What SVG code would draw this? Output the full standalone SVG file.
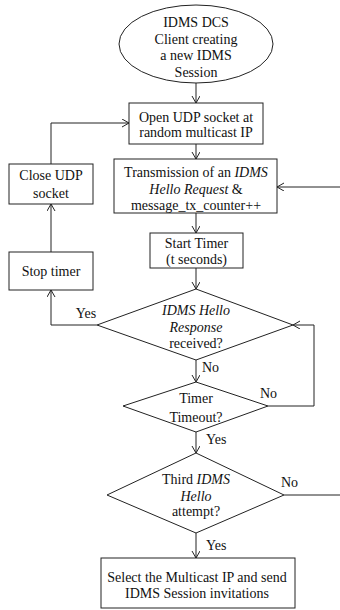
<svg xmlns="http://www.w3.org/2000/svg" width="340" height="610" viewBox="0 0 340 610">
  <style>
    .shape { fill: #ffffff; stroke: #222222; stroke-width: 1; }
    .line { fill: none; stroke: #222222; stroke-width: 1; }
    text { font-family: "Liberation Serif", "Times New Roman", serif; font-size: 14px; fill: #111111; }
    .c { text-anchor: middle; }
    .i { font-style: italic; }
  </style>
  <defs>
    <marker id="arrow" markerUnits="userSpaceOnUse" markerWidth="10" markerHeight="10" refX="7" refY="4" orient="auto">
      <path d="M0,0 L7,4 L0,8" fill="none" stroke="#222222" stroke-width="1"/>
    </marker>
  </defs>
  <rect width="340" height="610" fill="#ffffff"/>

  <g id="connectors">
    <path class="line" d="M196,83 V103" marker-end="url(#arrow)"/>
    <path class="line" d="M196,144 V159" marker-end="url(#arrow)"/>
    <path class="line" d="M196,213 V233" marker-end="url(#arrow)"/>
    <path class="line" d="M196,268 V289" marker-end="url(#arrow)"/>
    <path class="line" d="M196,360 V382" marker-end="url(#arrow)"/>
    <path class="line" d="M196,432 V453" marker-end="url(#arrow)"/>
    <path class="line" d="M196,533 V558" marker-end="url(#arrow)"/>
    <path class="line" d="M97,325 H51 V290" marker-end="url(#arrow)"/>
    <path class="line" d="M51,252 V204" marker-end="url(#arrow)"/>
    <path class="line" d="M51,164 V123 H129" marker-end="url(#arrow)"/>
    <path class="line" d="M268,406 H314 V325 H293" marker-end="url(#arrow)"/>
    <path class="line" d="M284,495 H340"/>
    <path class="line" d="M340,187 H277" marker-end="url(#arrow)"/>
    <text x="86" y="318" class="c">Yes</text>
    <text x="202" y="372">No</text>
    <text x="260" y="398">No</text>
    <text x="206" y="444">Yes</text>
    <text x="281" y="487">No</text>
    <text x="206" y="550">Yes</text>
  </g>

  <g id="start">
    <ellipse class="shape" cx="196" cy="44" rx="77" ry="39"/>
    <text x="196" y="26.5" class="c">IDMS DCS</text>
    <text x="196" y="43.5" class="c">Client  creating</text>
    <text x="196" y="60" class="c">a new IDMS</text>
    <text x="196" y="77" class="c">Session</text>
  </g>

  <g id="open-socket">
    <rect class="shape" x="129" y="103" width="134" height="41"/>
    <text x="196" y="122" class="c">Open UDP socket at</text>
    <text x="196" y="136.5" class="c">random multicast  IP</text>
  </g>

  <g id="transmit">
    <rect class="shape" x="114" y="159" width="163" height="54"/>
    <text x="196" y="176.5" class="c">Transmission  of an <tspan class="i">IDMS</tspan></text>
    <text x="196" y="193.5" class="c"><tspan class="i">Hello  Request</tspan> &amp;</text>
    <text x="196" y="209.5" class="c">message_tx_counter++</text>
  </g>

  <g id="start-timer">
    <rect class="shape" x="150" y="233" width="93" height="35"/>
    <text x="196.5" y="248" class="c">Start Timer</text>
    <text x="196.5" y="264" class="c">(t seconds)</text>
  </g>

  <g id="close-socket">
    <rect class="shape" x="9" y="164" width="84" height="40"/>
    <text x="51" y="180" class="c">Close UDP</text>
    <text x="51" y="198" class="c">socket</text>
  </g>

  <g id="stop-timer">
    <rect class="shape" x="9" y="252" width="84" height="38"/>
    <text x="51" y="276" class="c">Stop timer</text>
  </g>

  <g id="response-check">
    <polygon class="shape" points="196,289 293,325 196,360 97,325"/>
    <text x="196" y="315" class="c i">IDMS Hello</text>
    <text x="196" y="332" class="c i">Response</text>
    <text x="196" y="348" class="c">received?</text>
  </g>

  <g id="timeout-check">
    <polygon class="shape" points="196,382 268,406 196,432 123,406"/>
    <text x="196" y="403" class="c">Timer</text>
    <text x="196" y="421.5" class="c">Timeout?</text>
  </g>

  <g id="attempt-check">
    <polygon class="shape" points="196,453 284,495 196,533 107,495"/>
    <text x="196" y="484" class="c">Third <tspan class="i">IDMS</tspan></text>
    <text x="196" y="501" class="c i">Hello</text>
    <text x="196" y="515.5" class="c">attempt?</text>
  </g>

  <g id="select-multicast">
    <rect class="shape" x="101" y="558" width="194" height="50"/>
    <text x="197" y="582" class="c">Select the Multicast  IP and send</text>
    <text x="197" y="598" class="c">IDMS Session invitations</text>
  </g>
</svg>
